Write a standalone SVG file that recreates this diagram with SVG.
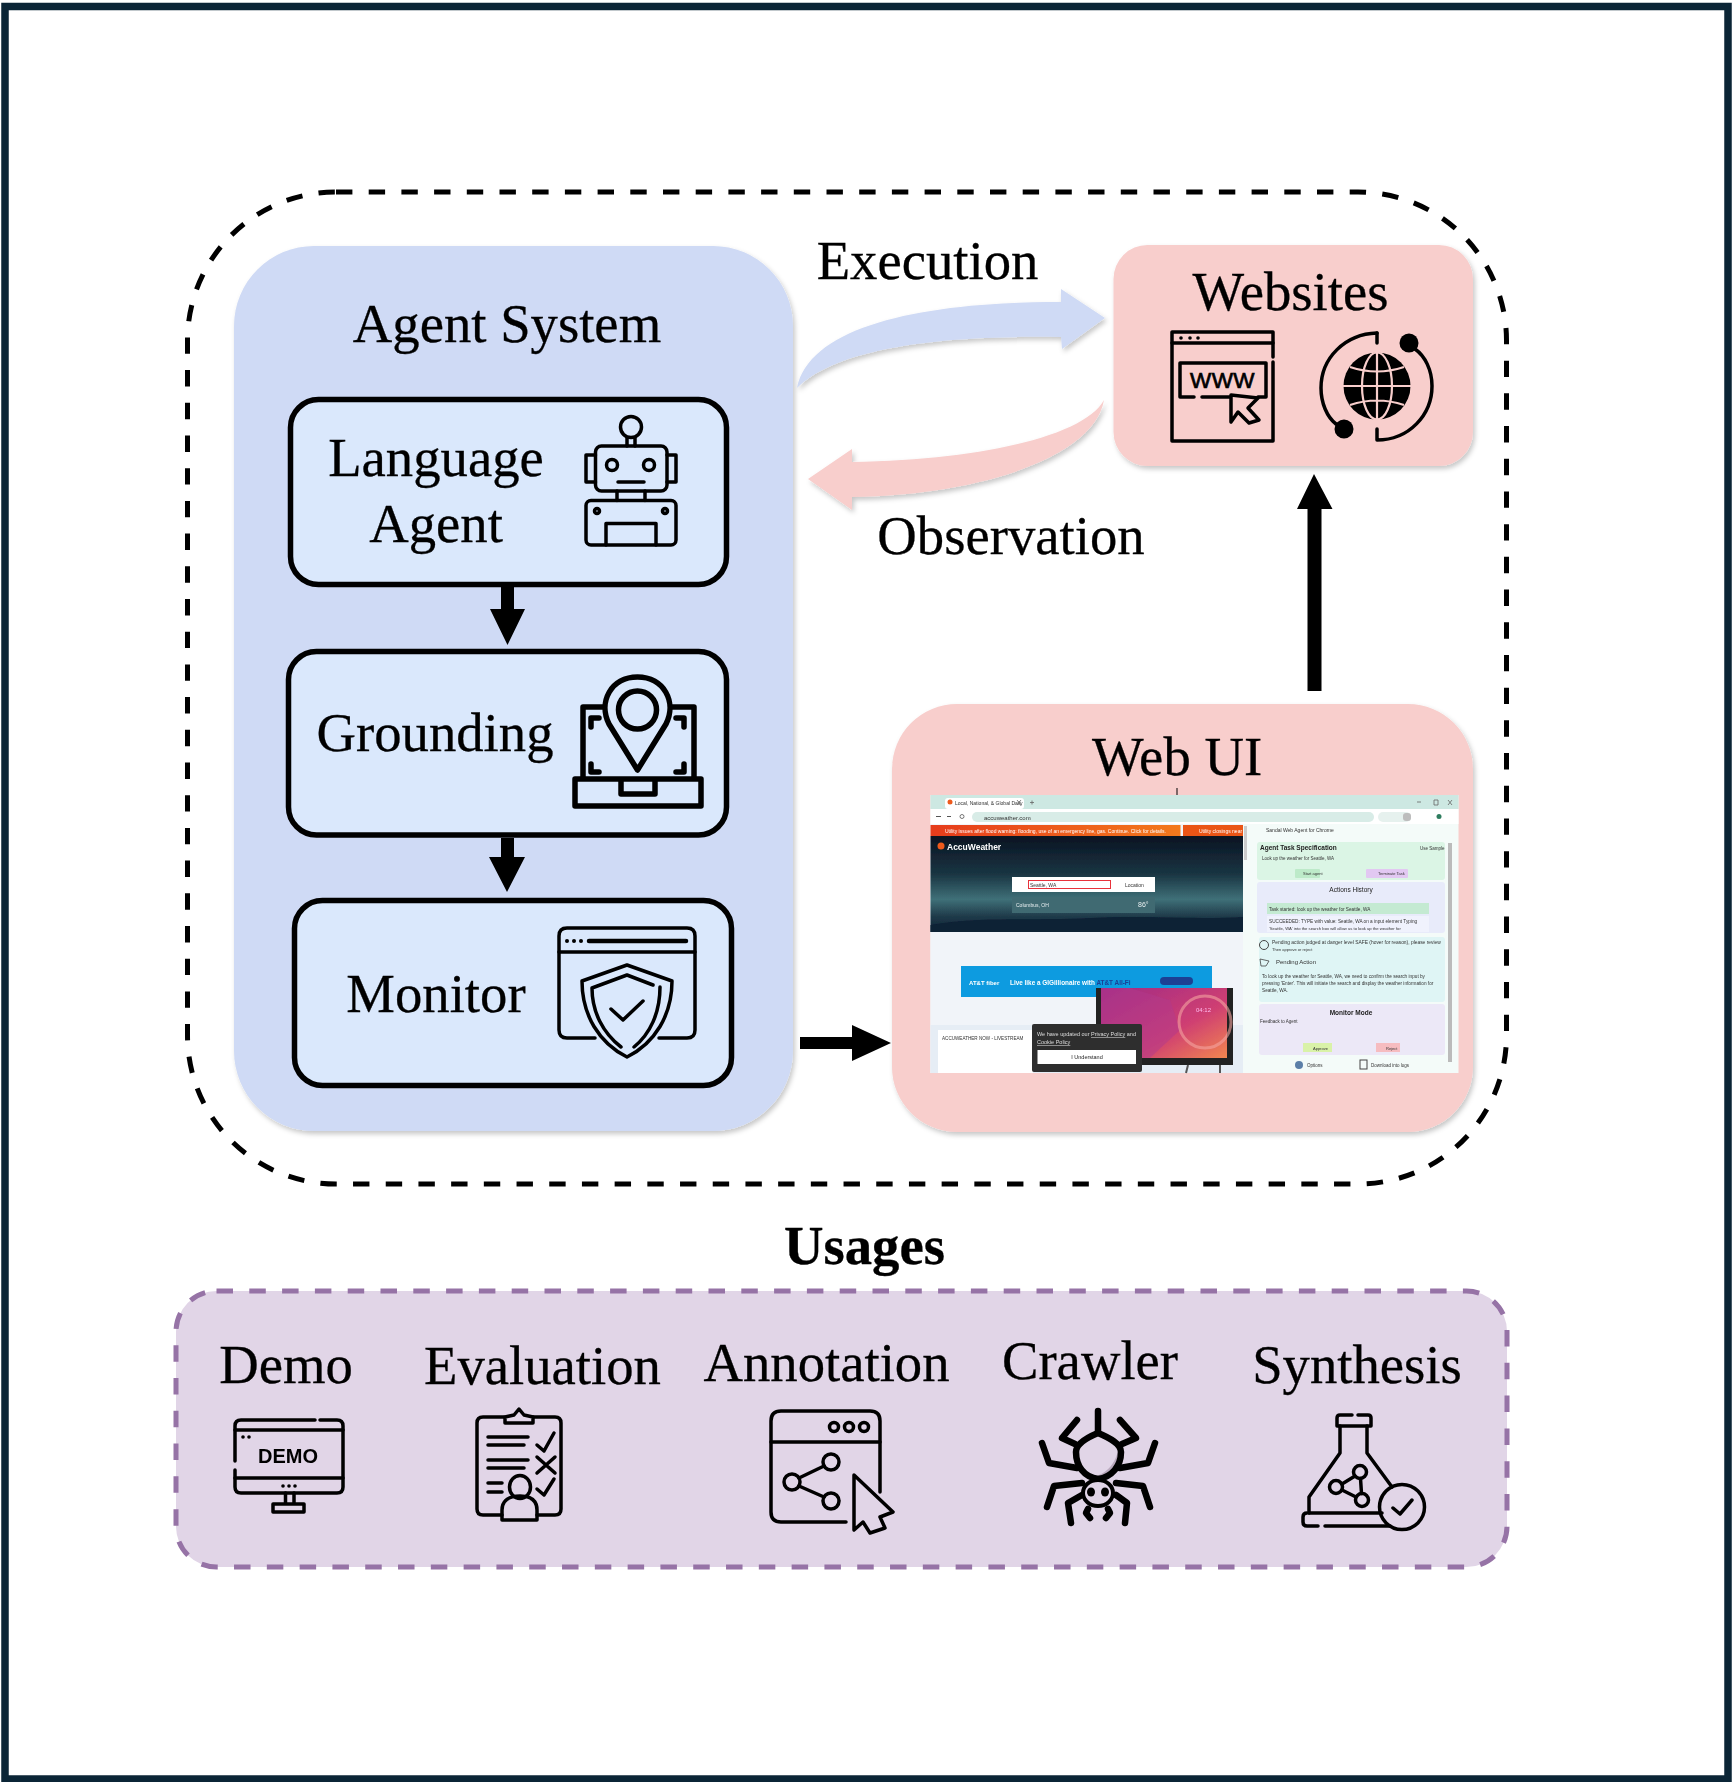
<svg xmlns="http://www.w3.org/2000/svg" width="1732" height="1782" viewBox="0 0 1732 1782">
<style>
.t{font-family:"Liberation Serif","Times New Roman",serif;font-size:54.7px;fill:#000;text-anchor:middle;stroke:#000;stroke-width:.3}
.b{font-weight:bold}
.inner{fill:#dae8fc;stroke:#000;stroke-width:5.5}
.ic{fill:none;stroke:#000;stroke-width:3.5;stroke-linecap:round;stroke-linejoin:round}
.ic2{fill:none;stroke:#000;stroke-width:5.5;stroke-linecap:round;stroke-linejoin:round}
.dot{fill:#000;stroke:none}
.s{font-family:"Liberation Sans",Arial,sans-serif;font-size:6px;fill:#333}
</style>
<defs>
<filter id="sh" x="-5%" y="-5%" width="112%" height="112%"><feDropShadow dx="2" dy="3" stdDeviation="2.5" flood-color="#000" flood-opacity="0.22"/></filter>
<filter id="bl" x="-2%" y="-2%" width="104%" height="104%"><feGaussianBlur stdDeviation="0.55"/></filter>
<linearGradient id="sky" x1="0" y1="0" x2="0" y2="1"><stop offset="0" stop-color="#0a1422"/><stop offset="0.4" stop-color="#1a3543"/><stop offset="0.66" stop-color="#3f7078"/><stop offset="0.84" stop-color="#1f3a49"/><stop offset="1" stop-color="#0e2035"/></linearGradient>
<linearGradient id="pk" x1="0" y1="0" x2="1" y2="1"><stop offset="0" stop-color="#9e2a86"/><stop offset="0.6" stop-color="#cf3f72"/><stop offset="1" stop-color="#f2864f"/></linearGradient>
<linearGradient id="or" x1="0" y1="0" x2="1" y2="0"><stop offset="0" stop-color="#e63c1c"/><stop offset="1" stop-color="#f3791c"/></linearGradient>
</defs>
<rect width="1732" height="1782" fill="#fff"/>
<rect id="frame" x="5" y="6.500" width="1723" height="1772.500" fill="none" stroke="#0b2536" stroke-width="7.500"/>
<rect id="boundary" x="187.500" y="192" width="1319" height="992" rx="148.500" ry="148.500" fill="none" stroke="#000" stroke-width="5" stroke-dasharray="16.400 16.300"/>

<g id="agent-system">
<rect x="234" y="246" width="559" height="885" rx="80" ry="80" fill="#cfdaf5" filter="url(#sh)"/>
<text class="t" x="507" y="342">Agent System</text>
</g>
<g id="language-agent">
<rect class="inner" x="290.500" y="399.500" width="436" height="185" rx="28"/>
<text class="t" x="436" y="476">Language</text>
<text class="t" x="436" y="542">Agent</text>
<g class="ic">
<circle cx="631" cy="427" r="10.500"/><path d="M627 437.500V446M635 437.500V446"/>
<rect x="595.500" y="446" width="71.500" height="45" rx="6"/>
<path d="M595.500 455H586V482H595.500M667 455H676V482H667"/>
<circle cx="612" cy="465" r="5.500"/><circle cx="649" cy="465" r="5.500"/>
<path d="M618 482H644M617 491V500.500M645 491V500.500"/>
<rect x="586" y="500.500" width="90" height="44.500" rx="5"/>
<circle cx="597" cy="511" r="2.500"/><circle cx="665" cy="511" r="2.500"/>
<path d="M606 545V523.500H656V545"/>
</g>
</g>
<g id="grounding">
<rect class="inner" x="288.500" y="651.500" width="438" height="183.500" rx="28"/>
<text class="t" x="435" y="751">Grounding</text>
<g class="ic2">
<path d="M604 707H583V778M671 707H694V778"/>
<path d="M637.500 770L609 724C598 702 611 677 637.500 677C664 677 677 702 666 724Z" fill="#dae8fc"/>
<circle cx="637.500" cy="710" r="19"/>
<rect x="575" y="779" width="126" height="27"/>
<path d="M621 780V794H655V780"/>
<path d="M591 727V718H599"/>
<path d="M676 718H684V727M591 764V772H599M684 764V772H676"/>
</g>
</g>
<g id="monitor">
<rect class="inner" x="294.500" y="900.500" width="437" height="185" rx="28"/>
<text class="t" x="436" y="1012">Monitor</text>
<g class="ic">
<path d="M595 1038H567Q559 1038 559 1030V936Q559 928 567 928H687Q695 928 695 936V1030Q695 1038 687 1038H659"/>
<path d="M559 952H695"/>
<path d="M589 941H686" stroke-width="4.500"/>
<circle class="dot" cx="567" cy="941" r="2"/><circle class="dot" cx="574" cy="941" r="2"/><circle class="dot" cx="581" cy="941" r="2"/>
<path d="M627 965L672 981C672 1015 655 1043 627 1057C599 1043 582 1015 582 981Z"/>
<path d="M653 985L627 975L592 988C592 1012 603 1033 621 1047M660 987C660 1013 650 1034 634 1047"/>
<path d="M611 1009L623 1020L643 1001"/>
</g>
</g>

<g id="websites">
<rect x="1113.500" y="245" width="359.500" height="221" rx="34" ry="34" fill="#f8cecc" filter="url(#sh)"/>
<text class="t" x="1290.500" y="310">Websites</text>
<g class="ic">
<path d="M1273 357V332H1172V441H1273V362"/>
<path d="M1172 343H1273"/>
<circle class="dot" cx="1181" cy="338" r="1.800"/><circle class="dot" cx="1190" cy="338" r="1.800"/><circle class="dot" cx="1198" cy="338" r="1.800"/>
<path d="M1194 397H1180V363H1266V397H1258M1202 397H1230"/>
<path d="M1231 395L1258 398L1248 408L1259 420L1249 423L1238 412L1231 422Z" fill="#f8cecc"/>
<path d="M1377 333C1345 334 1321 358 1321 388C1321 403 1327 417 1336 424"/>
<path d="M1377 333V343M1377 429V440C1409 440 1432 415 1432 386C1432 370 1425 356 1415 349"/>
</g>
<text x="1222.500" y="387.500" text-anchor="middle" font-family="Liberation Sans,Arial,sans-serif" font-size="22.500" letter-spacing="0.500" stroke="#000" stroke-width="0.700" fill="#000">WWW</text>
<circle class="dot" cx="1344" cy="429" r="9.500"/><circle class="dot" cx="1409" cy="343" r="9.500"/>
<g>
<circle class="dot" cx="1377" cy="386" r="33.500"/>
<g fill="none" stroke="#f8cecc" stroke-width="2.200">
<ellipse cx="1377" cy="386" rx="15" ry="33.500"/>
<path d="M1377 352V420M1343 386H1411M1350 367C1368 373 1386 373 1404 367M1350 405C1368 399 1386 399 1404 405"/>
</g>
</g>
</g>

<g id="web-ui">
<rect x="892" y="704" width="581" height="428" rx="65" ry="65" fill="#f8cecc" filter="url(#sh)"/>
<text class="t" x="1177" y="775">Web UI</text>
<path d="M1177 788V795" stroke="#000" stroke-width="1"/>
<g filter="url(#bl)">
<rect x="930.500" y="795" width="528" height="278" fill="#f4fbf9"/>
<rect x="930.500" y="795" width="528" height="14" fill="#cde8e2"/>
<rect x="945" y="798" width="79" height="11" rx="3" fill="#fff"/>
<circle cx="950" cy="802" r="2.500" fill="#ee5a1c"/>
<text class="s" x="955" y="804.500" style="font-size:5px">Local, National, &amp; Global Daily</text>
<path d="M1017 800L1021 805M1021 800L1017 805M1030 802.500H1034M1032 800.500V804.500M1417 802H1421M1434 800H1438V805H1434ZM1448 800L1452 805M1452 800L1448 805" stroke="#666" stroke-width="0.800" fill="none"/>
<rect x="930.500" y="809" width="528" height="15" fill="#fff"/>
<rect x="972" y="812" width="402" height="10" rx="5" fill="#d8ece7"/>
<text class="s" x="984" y="819.500">accuweather.com</text>
<path d="M936 816.500H941M947 816.500H951" stroke="#555" stroke-width="1"/>
<circle cx="962" cy="816.500" r="2" fill="none" stroke="#555" stroke-width="0.800"/>
<rect x="1378" y="812" width="33" height="10" rx="5" fill="#e6f1ee"/>
<rect x="1403" y="813" width="8" height="8" rx="3" fill="#bdbdbd"/>
<circle cx="1439" cy="816.500" r="2.500" fill="#2f7d5e"/>
<rect x="930.500" y="824" width="312.500" height="249" fill="#f1f4f9"/>
<rect x="930.500" y="825" width="250" height="11" fill="url(#or)"/>
<rect x="1183" y="825" width="60" height="11" fill="#ea5414"/>
<text class="s" x="945" y="832.500" style="font-size:5px;fill:#fff">Utility issues after flood warning: flooding, use of an emergency line, gas. Continue. Click for details.</text>
<text class="s" x="1199" y="832.500" style="font-size:5px;fill:#fff">Utility closings near N</text>
<rect x="930.500" y="836" width="312.500" height="96" fill="url(#sky)"/>
<path d="M930.500 925C980 916 1040 921 1090 918C1140 915 1190 920 1243 917V932H930.500Z" fill="#0e2035"/>
<circle cx="941" cy="846" r="3.500" fill="#ee5a1c"/>
<text x="947" y="850" font-family="Liberation Sans,Arial,sans-serif" font-size="8.500" font-weight="bold" fill="#fff">AccuWeather</text>
<rect x="1012" y="877" width="143" height="15" fill="#fff"/>
<rect x="1028.500" y="880.500" width="82" height="8" fill="#fff" stroke="#e8333a" stroke-width="1"/>
<text class="s" x="1030" y="886.500" style="font-size:5px">Seattle, WA</text>
<text class="s" x="1125" y="886.500" style="font-size:5px">Location</text>
<rect x="1012" y="897" width="143" height="16" fill="#3f6a72"/>
<text class="s" x="1016" y="906.500" style="font-size:5px;fill:#e8eef0">Columbus, OH</text>
<text class="s" x="1138" y="907" style="font-size:7px;fill:#e8eef0">86°</text>
<rect x="961" y="966" width="251" height="31" fill="#0a9be0"/>
<text x="969" y="985" font-family="Liberation Sans,Arial,sans-serif" font-size="6" font-weight="bold" fill="#fff">AT&amp;T fiber</text>
<text x="1010" y="985" font-family="Liberation Sans,Arial,sans-serif" font-size="6.400" font-weight="bold" fill="#fff">Live like a GIGillionaire with <tspan fill="#1c3f94">AT&amp;T All-Fi</tspan></text>
<rect x="1160" y="977" width="33" height="8" rx="4" fill="#1c3f94"/>
<rect x="930.500" y="1025" width="312.500" height="48" fill="#e6edf5"/>
<rect x="938" y="1030" width="95" height="43" fill="#fff"/>
<text class="s" x="942" y="1040" style="font-size:4.600px">ACCUWEATHER NOW - LIVESTREAM</text>
<rect x="1096" y="988" width="137" height="77" fill="#222"/>
<path d="M1101 988H1227V1058H1101Z" fill="url(#pk)"/>
<path d="M1130 988L1170 1000L1180 1030L1150 1058H1101V988Z" fill="#b23a8c" opacity="0.5"/>
<circle cx="1205" cy="1022" r="26" fill="none" stroke="#f4a3a0" stroke-width="3" opacity="0.6"/>
<text class="s" x="1196" y="1012" style="font-size:6px;fill:#fbe">04:12</text>
<path d="M1188 1065L1186 1073M1220 1065L1220 1073" stroke="#555" stroke-width="2"/>
<rect x="1032" y="1024" width="110" height="48" rx="2" fill="#2f2f2f"/>
<text class="s" x="1037" y="1036" style="font-size:5.500px;fill:#ddd">We have updated our <tspan text-decoration="underline">Privacy Policy</tspan> and</text>
<text class="s" x="1037" y="1044" style="font-size:5.500px;fill:#ddd" text-decoration="underline">Cookie Policy</text>
<rect x="1037.500" y="1050" width="98.500" height="14" fill="#fff"/>
<text class="s" x="1087" y="1059" style="font-size:5.500px;fill:#222;text-anchor:middle">I Understand</text>
<rect x="1244" y="826" width="3" height="34" fill="#ccc"/>
<text class="s" x="1266" y="832" style="font-size:5px">Sandal Web Agent for Chrome</text>
<rect x="1257" y="842" width="188" height="38" rx="3" fill="#dbf5e5"/>
<rect x="1257" y="882" width="188" height="51" rx="3" fill="#e8ebfa"/>
<rect x="1259" y="937" width="186" height="65" rx="3" fill="#dff5f5"/>
<rect x="1259" y="1004" width="186" height="51" rx="3" fill="#ece8f7"/>
<rect x="1448" y="843" width="4" height="219" fill="#bbb"/>
<text x="1260" y="850" font-family="Liberation Sans,Arial,sans-serif" font-size="6.500" font-weight="bold" fill="#222">Agent Task Specification</text>
<text class="s" x="1420" y="850" style="font-size:4.500px">Use Sample</text>
<text class="s" x="1262" y="860" style="font-size:4.500px">Look up the weather for Seattle, WA</text>
<rect x="1295" y="869" width="25" height="9" rx="1" fill="#bdeac9"/>
<text class="s" x="1303" y="875" style="font-size:4px">Start agent</text>
<rect x="1366" y="869" width="42" height="9" rx="1" fill="#e2c8f2"/>
<text class="s" x="1378" y="875" style="font-size:4px">Terminate Task</text>
<text x="1351" y="892" text-anchor="middle" font-family="Liberation Sans,Arial,sans-serif" font-size="6.500" fill="#222">Actions History</text>
<rect x="1267" y="903" width="162" height="11" fill="#c4ead2"/>
<rect x="1267" y="916" width="162" height="16" fill="#f0f2fd"/>
<text class="s" x="1269" y="910.500" style="font-size:4.700px">Task started: look up the weather for Seattle, WA</text>
<text class="s" x="1269" y="923" style="font-size:4.700px">SUCCEEDED: TYPE with value: Seattle, WA on a input element Typing</text>
<text class="s" x="1269" y="930" style="font-size:4.200px">'Seattle, WA' into the search box will allow us to look up the weather for</text>
<text class="s" x="1272" y="944" style="font-size:4.900px">Pending action judged at danger level SAFE (hover for reason), please review</text>
<circle cx="1264" cy="945" r="4.500" fill="none" stroke="#444" stroke-width="1"/>
<text class="s" x="1272" y="951" style="font-size:4px">Then approve or reject</text>
<text class="s" x="1276" y="964" style="font-size:6px">Pending Action</text>
<path d="M1260 959L1269 961L1266 966L1261 966Z" fill="none" stroke="#444" stroke-width="0.800"/>
<text class="s" x="1262" y="978" style="font-size:4.700px">To look up the weather for Seattle, WA, we need to confirm the search input by</text>
<text class="s" x="1262" y="985" style="font-size:4.700px">pressing 'Enter'. This will initiate the search and display the weather information for</text>
<text class="s" x="1262" y="992" style="font-size:4.700px">Seattle, WA.</text>
<text x="1351" y="1015" text-anchor="middle" font-family="Liberation Sans,Arial,sans-serif" font-size="6.500" font-weight="bold" fill="#222">Monitor Mode</text>
<text class="s" x="1260" y="1023" style="font-size:4.500px">Feedback to Agent</text>
<rect x="1303" y="1043" width="29" height="9" fill="#d9f2a8"/>
<text class="s" x="1313" y="1049.500" style="font-size:4px">Approve</text>
<rect x="1376" y="1043" width="24" height="9" fill="#f6bcc0"/>
<text class="s" x="1386" y="1049.500" style="font-size:4px">Reject</text>
<circle cx="1299" cy="1065" r="4" fill="#5b7fa8"/>
<text class="s" x="1307" y="1067" style="font-size:4.500px">Options</text>
<rect x="1360" y="1060" width="7" height="9" fill="none" stroke="#444" stroke-width="1"/>
<text class="s" x="1371" y="1067" style="font-size:4.500px">Download into logs</text>
</g>
</g>

<g id="connectors">
<path id="execution-arrow" d="M797 388C810 325 925 302 1061 302L1061 289L1105 318L1062 349L1061 337C930 335 835 350 797 388Z" fill="#cfdaf5" filter="url(#sh)"/>
<path id="observation-arrow" d="M1104 400C1085 435 985 460 852 462L852 449L808 479L852 510L852 497C985 495 1095 455 1104 400Z" fill="#f8cecc" filter="url(#sh)"/>
<path d="M501 587H514V609H525L507.500 645L490 609H501Z" fill="#000"/>
<path d="M501 838H514V857H525L507 892L489 857H501Z" fill="#000"/>
<path d="M800 1037H852V1025L891 1043L852 1061V1049H800Z" fill="#000"/>
<path d="M1307.500 691V509H1297L1314 474L1332.500 509H1321.500V691Z" fill="#000"/>
</g>
<text class="t" x="927.500" y="279">Execution</text>
<text class="t" x="1011" y="554">Observation</text>

<text class="t b" x="864.500" y="1264">Usages</text>
<g id="usages">
<rect x="176" y="1291" width="1331" height="276" rx="40.500" ry="40.500" fill="#e1d5e7" stroke="#9673a6" stroke-width="5" stroke-dasharray="16.500 16.300"/>
</g>
<g id="demo">
<text class="t" x="286" y="1383">Demo</text>
<g class="ic">
<path d="M315 1420H241Q235 1420 235 1426V1461M235 1470V1487Q235 1493 241 1493H337Q343 1493 343 1487V1426Q343 1420 337 1420H320"/>
<path d="M235 1430H343M235 1478H343"/>
<path d="M285.500 1493V1504M294 1493V1504M273 1504H304V1512H273Z"/>
</g>
<circle class="dot" cx="243" cy="1437" r="1.800"/><circle class="dot" cx="249" cy="1437" r="1.800"/>
<circle class="dot" cx="283" cy="1486" r="1.800"/><circle class="dot" cx="289" cy="1486" r="1.800"/><circle class="dot" cx="295" cy="1486" r="1.800"/>
<text x="288" y="1463" text-anchor="middle" font-family="Liberation Sans,Arial,sans-serif" font-size="20" font-weight="bold" fill="#000">DEMO</text>
</g>
<g id="evaluation">
<text class="t" x="542.500" y="1384">Evaluation</text>
<g class="ic">
<path d="M504 1417H483Q477 1417 477 1423V1509Q477 1515 483 1515H502M537 1515H555Q561 1515 561 1509V1423Q561 1417 555 1417H533"/>
<path d="M505 1423V1417L514 1415L519 1409L524 1415L533 1417V1423Z"/>
<path d="M488 1437H528M488 1445H524M488 1460H528M488 1468H524M488 1483H502M488 1492H502"/>
<path d="M537 1445L544 1451L554 1433M537 1457L555 1473M555 1457L537 1473M537 1489L544 1495L554 1479"/>
<ellipse cx="520" cy="1487" rx="10.500" ry="11.500"/>
<path d="M502 1520V1510C502 1500 510 1496 520 1496C530 1496 537 1500 537 1510V1520Z"/>
</g>
</g>
<g id="annotation">
<text class="t" x="826.500" y="1381">Annotation</text>
<g class="ic">
<path d="M846 1522H781Q771 1522 771 1512V1421Q771 1411 781 1411H870Q880 1411 880 1421V1492"/>
<path d="M771 1442H880"/>
<circle cx="834" cy="1427" r="4.500"/><circle cx="849" cy="1427" r="4.500"/><circle cx="864" cy="1427" r="4.500"/>
<circle cx="831" cy="1462" r="8"/><circle cx="792" cy="1482" r="8"/><circle cx="831" cy="1501" r="8"/>
<path d="M824 1466L799 1478M799 1486L824 1497"/>
<path d="M854 1475L893 1512L880 1517L885 1528L870 1533L863 1522L854 1530Z"/>
</g>
</g>
<g id="crawler">
<text class="t" x="1090" y="1379">Crawler</text>
<path d="M1098 1433C1086 1438 1076 1444 1076 1452C1076 1466 1084 1477 1098 1479C1112 1477 1121 1466 1121 1452C1121 1444 1110 1438 1098 1433Z" fill="#e1d5e7"/>
<path d="M1119 1445C1117 1462 1108 1474 1092 1477C1104 1480 1120 1472 1121 1452Z" fill="#b9a9bd"/>
<g fill="none" stroke="#000" stroke-width="6.500" stroke-linecap="round" stroke-linejoin="round">
<path d="M1098 1433C1086 1438 1076 1444 1076 1452C1076 1466 1084 1477 1098 1479C1112 1477 1121 1466 1121 1452C1121 1444 1110 1438 1098 1433Z"/>
<path d="M1098 1411V1432"/>
<path d="M1075 1444L1062 1438L1077 1420M1122 1444L1136 1438L1120 1420"/>
<path d="M1077 1468L1049 1463L1042 1443M1120 1468L1148 1463L1155 1443"/>
<path d="M1082 1483L1054 1486L1047 1507M1116 1483L1143 1486L1150 1507"/>
<path d="M1082 1495L1068 1503L1071 1523M1116 1495L1127 1503L1125 1523"/>
<path d="M1088 1509L1086 1513L1090 1518M1108 1509L1110 1513L1106 1518"/>
</g>
<ellipse cx="1098" cy="1493" rx="15" ry="13" fill="#e1d5e7" stroke="#000" stroke-width="4"/>
<ellipse class="dot" cx="1091" cy="1492" rx="4" ry="4.500"/><ellipse class="dot" cx="1105" cy="1492" rx="4" ry="4.500"/>
</g>
<g id="synthesis">
<text class="t" x="1357" y="1383">Synthesis</text>
<g class="ic">
<path d="M1352 1415H1340Q1337 1415 1337 1418V1426H1371V1418Q1371 1415 1368 1415H1358"/>
<path d="M1340 1426V1453L1309 1497V1513M1367 1426V1453L1392 1487"/>
<path d="M1309 1513H1382M1318 1526H1307Q1303 1526 1303 1522V1517Q1303 1513 1307 1513M1325 1526H1390"/>
<circle cx="1402" cy="1507" r="22.500"/>
<path d="M1393 1508L1400 1514L1412 1500"/>
<circle cx="1360" cy="1472" r="6.500"/><circle cx="1336" cy="1487" r="6.500"/><circle cx="1362" cy="1500" r="6.500"/>
<path d="M1355 1476L1342 1484M1342 1490L1356 1497M1360.500 1478.500L1361.500 1493.500"/>
</g>
</g>
</svg>
